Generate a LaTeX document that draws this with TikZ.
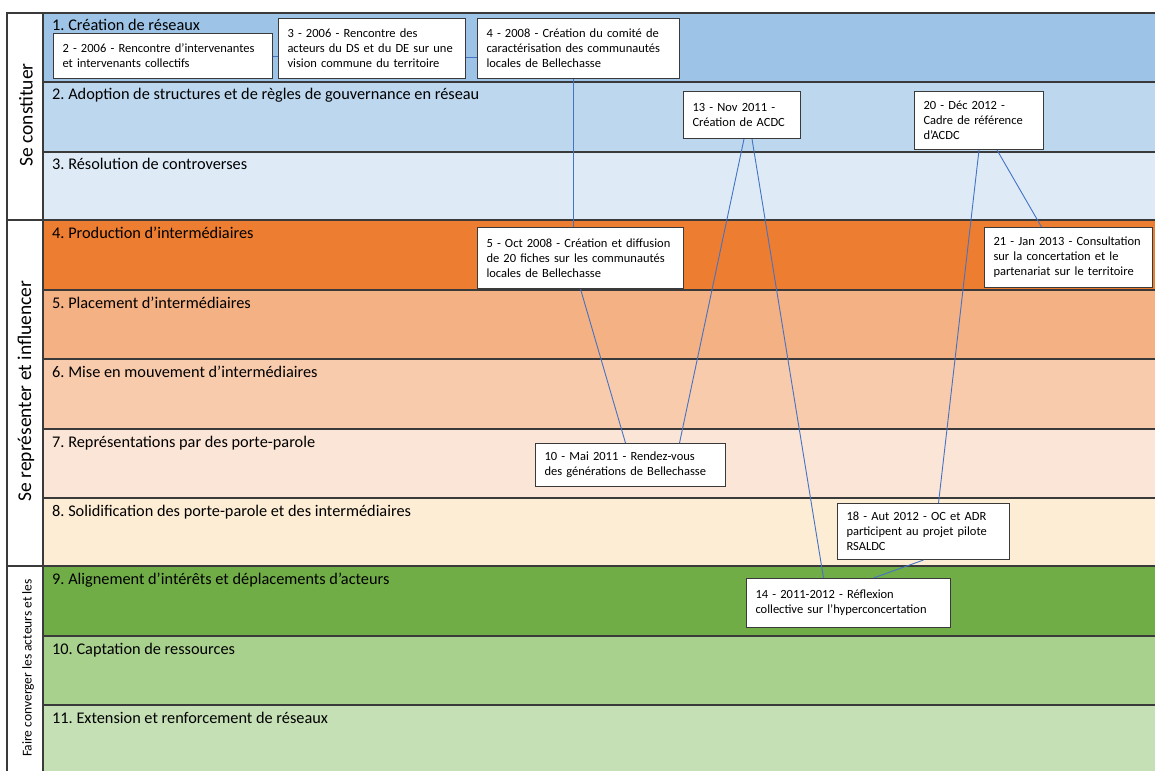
\documentclass[tikz,border=0pt]{standalone}
\usepackage{fontspec}
\setmainfont{Carlito}
\frenchspacing
\definecolor{rowA}{HTML}{9DC3E6}
\definecolor{rowB}{HTML}{BDD7EE}
\definecolor{rowC}{HTML}{DEEBF7}
\definecolor{rowD}{HTML}{ED7D31}
\definecolor{rowE}{HTML}{F4B183}
\definecolor{rowF}{HTML}{F8CBAD}
\definecolor{rowG}{HTML}{FBE5D6}
\definecolor{rowH}{HTML}{FDEDD5}
\definecolor{rowI}{HTML}{70AD47}
\definecolor{rowJ}{HTML}{A9D18E}
\definecolor{rowK}{HTML}{C5E0B4}
\definecolor{gridline}{HTML}{3A3A3A}
\definecolor{linkblue}{HTML}{4472C4}
\tikzset{
	rowlabel/.style = {anchor = base west, inner sep = 0pt,
					   font = \fontsize{16.3}{18}\selectfont},
	grouplabel/.style = {rotate = 90, inner sep = 0pt,
						 font = \fontsize{19.5}{22}\selectfont},
	evbox/.style = {draw = gridline, fill = white, anchor = north west,
					line width = 1pt, align = left,
					inner xsep = 9pt, inner ysep = 2pt,
					font = \fontsize{12.5}{15}\selectfont},
	link/.style = {draw = linkblue, line width = 0.9pt}
}
\begin{document}
\begin{tikzpicture}[x = 1pt, y = -1pt]
	\useasboundingbox (0,0) rectangle (1155,770);
	\clip (0,0) rectangle (1155,770);

	% rows
	\begin{scope}[draw = gridline, line width = 1.1pt]
	\draw[fill = rowA] (43,13) rectangle (1165,82);
	\draw[fill = rowB] (43,82) rectangle (1165,152);
	\draw[fill = rowC] (43,152) rectangle (1165,220);
	\draw[fill = rowD] (43,220) rectangle (1165,290);
	\draw[fill = rowE] (43,290) rectangle (1165,359);
	\draw[fill = rowF] (43,359) rectangle (1165,429);
	\draw[fill = rowG] (43,429) rectangle (1165,498);
	\draw[fill = rowH] (43,498) rectangle (1165,566);
	\draw[fill = rowI] (43,566) rectangle (1165,636);
	\draw[fill = rowJ] (43,636) rectangle (1165,705);
	\draw[fill = rowK] (43,705) rectangle (1165,780);
	\end{scope}

	\draw (52,31) node[rowlabel](r1) {1. Création de réseaux};
	\draw (52,100) node[rowlabel](r2) {2. Adoption de structures et de règles de gouvernance en réseau};
	\draw (52,170) node[rowlabel](r3) {3. Résolution de controverses};
	\draw (52,238) node[rowlabel](r4) {4. Production d’intermédiaires};
	\draw (52,308) node[rowlabel](r5) {5. Placement d’intermédiaires};
	\draw (52,377) node[rowlabel](r6) {6. Mise en mouvement d’intermédiaires};
	\draw (52,447) node[rowlabel](r7) {7. Représentations par des porte-parole};
	\draw (52,516) node[rowlabel](r8) {8. Solidification des porte-parole et des intermédiaires};
	\draw (52,584) node[rowlabel](r9) {9. Alignement d’intérêts et déplacements d’acteurs};
	\draw (52,654) node[rowlabel](r10) {10. Captation de ressources};
	\draw (52,723) node[rowlabel](r11) {11. Extension et renforcement de réseaux};

	% left column
	\draw[gridline, line width = 1.1pt, fill = white] (7,13) rectangle (43,780);
	\draw[gridline, line width = 1.1pt] (7,220) -- (43,220);
	\draw[gridline, line width = 1.1pt] (7,566) -- (43,566);
	\draw (26,115) node[grouplabel](g1) {Se constituer};
	\draw (26,391) node[grouplabel](g2) {Se représenter et influencer};
	\draw (28,668) node[grouplabel, font = \fontsize{13.5}{15}\selectfont](g3) {Faire converger les acteurs et les};

	% events
	\draw (53,33) node[evbox, text width = 201pt, minimum height = 45pt](b2)
		{2 - 2006 - Rencontre d’intervenantes\\et intervenants collectifs};
	\draw (278,18) node[evbox, text width = 169pt, minimum height = 60pt](b3)
		{3 - 2006 - Rencontre des\\acteurs du DS et du DE sur une\\vision commune du territoire};
	\draw (477,18) node[evbox, text width = 184pt, minimum height = 60pt](b4)
		{4 - 2008 - Création du comité de\\caractérisation des communautés\\locales de Bellechasse};
	\draw (683,91) node[evbox, text width = 99pt, minimum height = 47pt](b13)
		{13 - Nov 2011 -\\Création de ACDC};
	\draw (914,91) node[evbox, text width = 111pt, minimum height = 58pt](b20)
		{20 - Déc 2012 -\\Cadre de référence\\d'ACDC};
	\draw (477,227) node[evbox, text width = 188pt, minimum height = 61pt](b5)
		{5 - Oct 2008 - Création et diffusion\\de 20 fiches sur les communautés\\locales de Bellechasse};
	\draw (984,227) node[evbox, text width = 150pt, minimum height = 60pt](b21)
		{21 - Jan 2013 - Consultation\\sur la concertation et le\\partenariat sur le territoire};
	\draw (535,443) node[evbox, text width = 172pt, minimum height = 43pt](b10)
		{10 - Mai 2011 - Rendez-vous\\des générations de Bellechasse};
	\draw (837,503) node[evbox, text width = 154pt, minimum height = 56pt](b18)
		{18 - Aut 2012 - OC et ADR\\participent au projet pilote\\RSALDC};
	\draw (746,578) node[evbox, text width = 186pt, minimum height = 49pt](b14)
		{14 - 2011-2012 - Réflexion\\collective sur l’hyperconcertation};

	% links
	\draw[link] (b2.east) -- (b2.east -| b3.west);
	\draw[link] ([yshift = -9pt]b3.east) -- ([yshift = -9pt]b3.east -| b4.west);
	\draw[link] ([xshift = -5pt]b4.south) -- ([xshift = -7pt]b5.north);
	\draw[link] (b5.south) -- ([xshift = -5pt]b10.north);
	\draw[link] ([xshift = 49pt]b10.north) -- ([xshift = 2pt]b13.south);
	\draw[link] ([xshift = 10pt]b13.south) -- ([xshift = -25pt]b14.north);
	\draw[link] (b20.south) -- ([xshift = 15pt]b18.north);
	\draw[link] ([xshift = 18pt]b20.south) -- ([xshift = -27pt]b21.north);
	\draw[link] (b18.south) -- ([xshift = 25pt]b14.north);
\end{tikzpicture}
\end{document}
